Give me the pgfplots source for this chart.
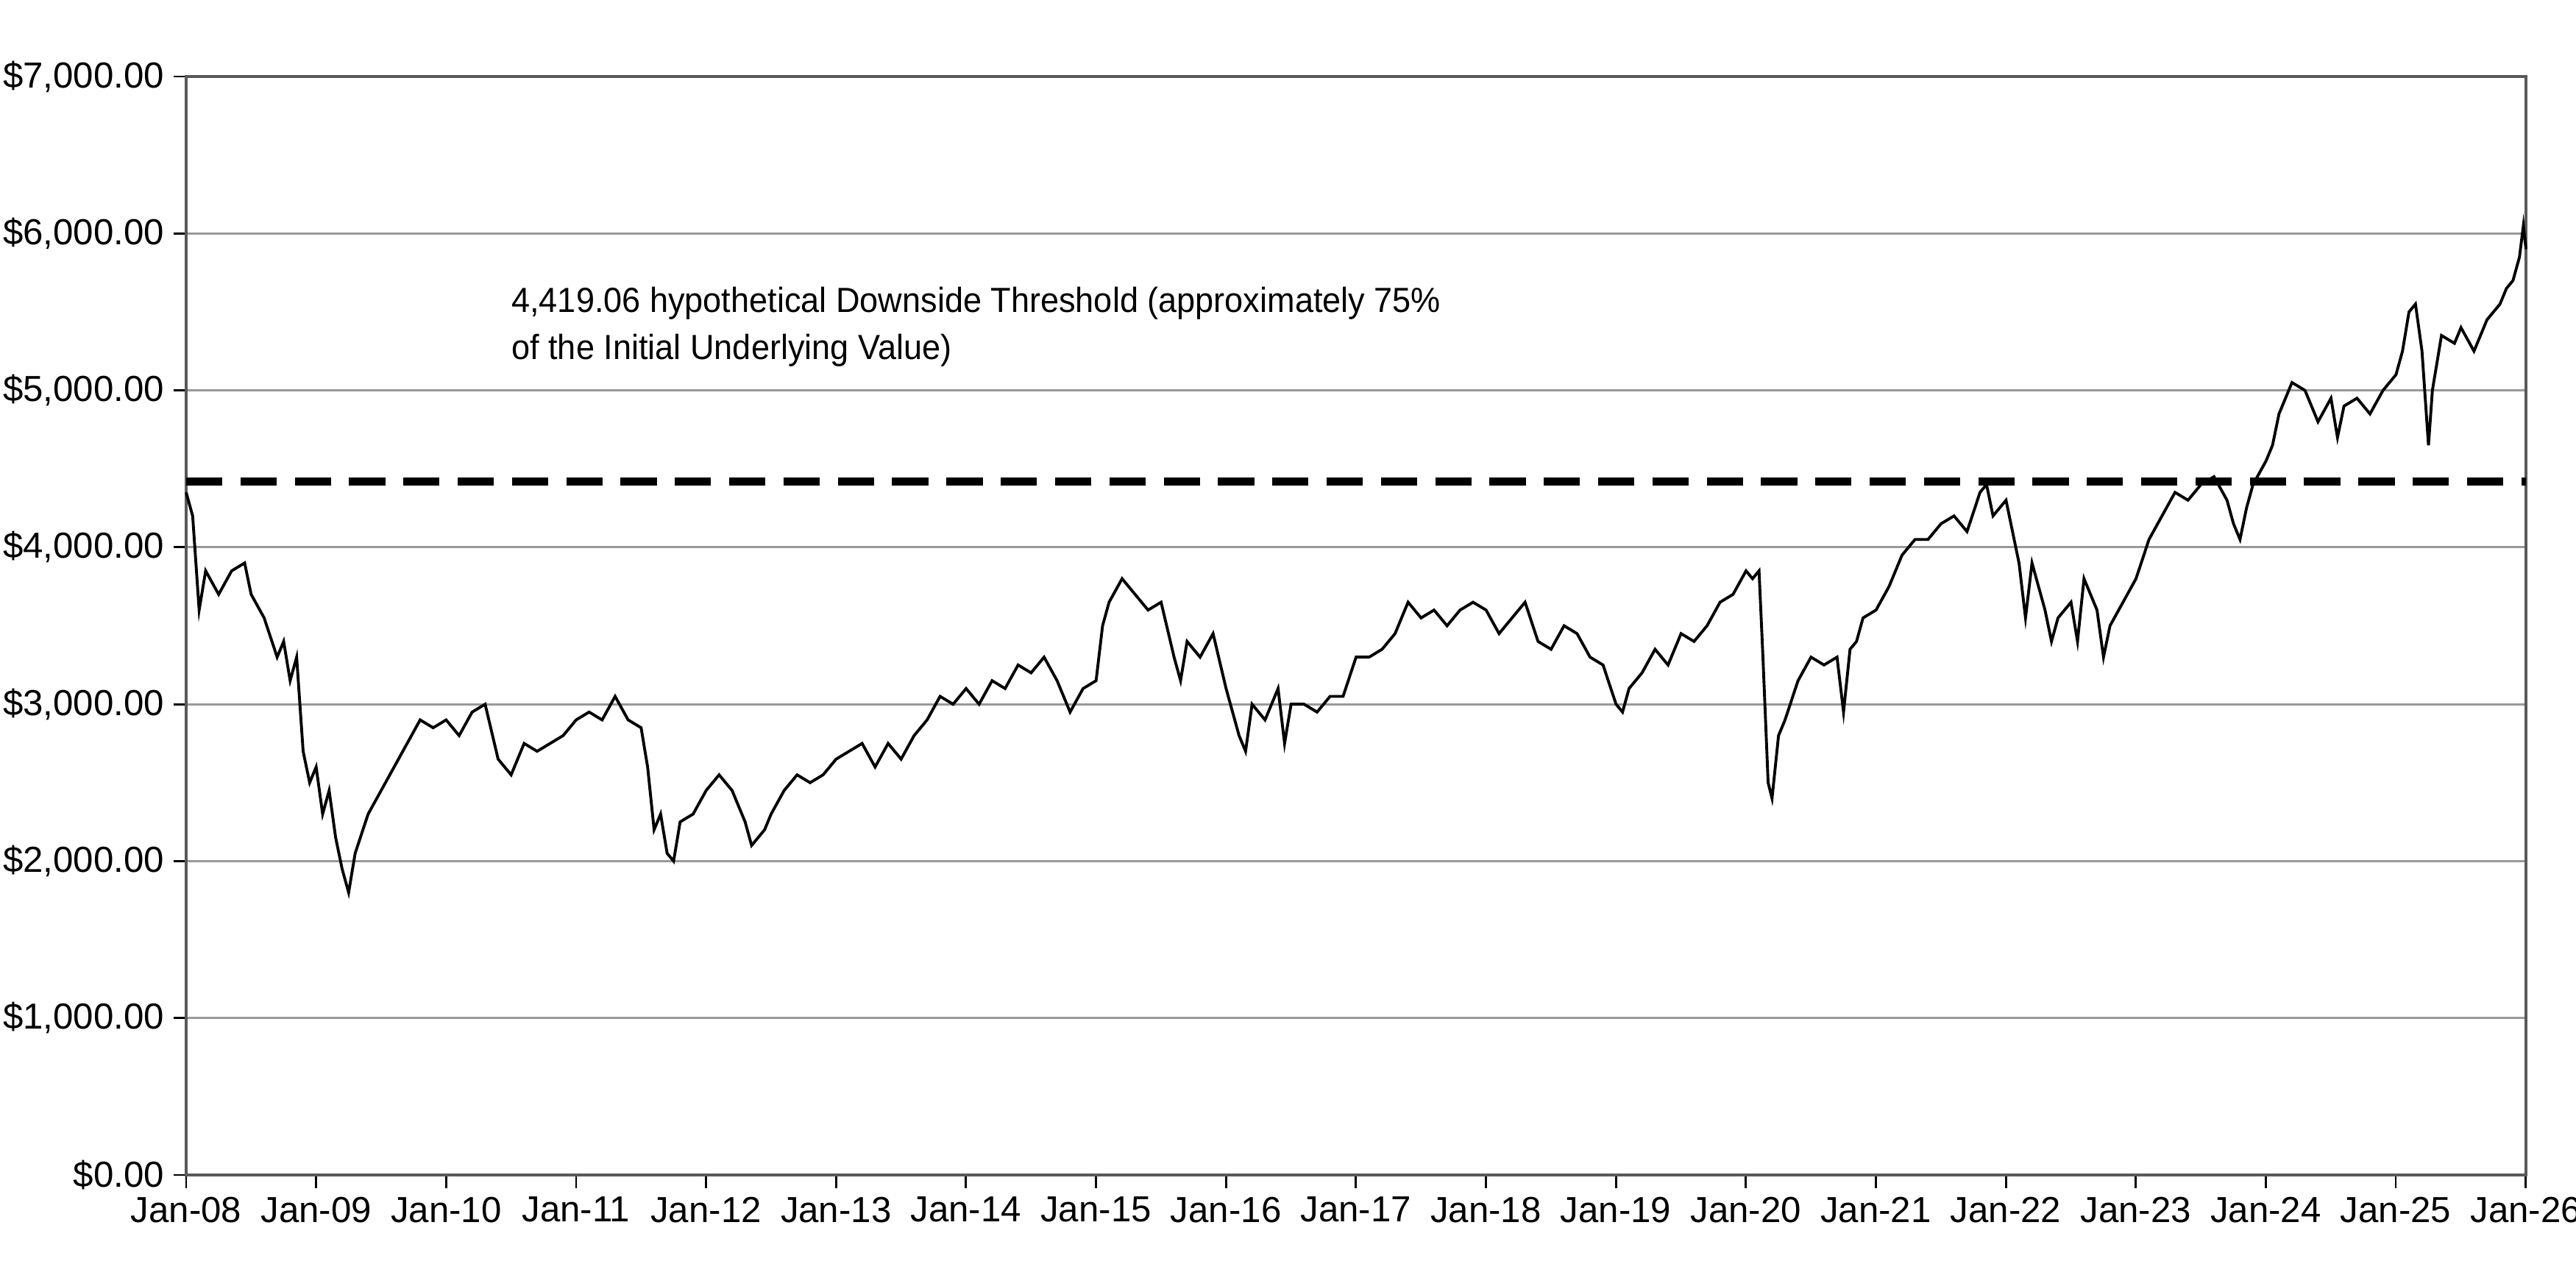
\documentclass[border=0pt]{standalone}
\usepackage{pgfplots}
\pgfplotsset{compat=1.18}
\usepackage{fontspec}
\setmainfont{Liberation Sans}
\begin{document}
\begin{tikzpicture}
\path[use as bounding box] (-2.53,-1.2) rectangle (32.48,15.97);
\begin{axis}[
  scale only axis, width=31.8cm, height=14.93cm,
  at={(0,0)}, anchor=south west,
  xmin=2008, xmax=2026, ymin=0, ymax=7000,
  xtick={2008,...,2026},
  xticklabels={Jan-08,Jan-09,Jan-10,Jan-11,Jan-12,Jan-13,Jan-14,Jan-15,Jan-16,Jan-17,Jan-18,Jan-19,Jan-20,Jan-21,Jan-22,Jan-23,Jan-24,Jan-25,Jan-26},
  ytick={0,1000,...,7000},
  yticklabels={\$0.00,\$1{,}000.00,\$2{,}000.00,\$3{,}000.00,\$4{,}000.00,\$5{,}000.00,\$6{,}000.00,\$7{,}000.00},
  ymajorgrids, major grid style={gray!80, line width=0.8pt},
  xtick pos=bottom, ytick pos=left,
  tick style={black, line width=0.8pt}, tick align=outside, major tick length=5pt,
  axis line style={gray!70!black, line width=1pt},
  ticklabel style={font=\fontsize{14}{16}\selectfont},
  /pgf/number format/assume math mode=true,
  clip=false,
]
\addplot[black, line width=1.1pt] coordinates {
(2008.0,4350)(2008.05,4200)(2008.1,3600)(2008.15,3850)(2008.25,3700)(2008.35,3850)(2008.45,3900)(2008.5,3700)(2008.6,3550)(2008.7,3300)(2008.75,3400)(2008.8,3150)(2008.85,3300)(2008.9,2700)(2008.95,2500)(2009.0,2600)(2009.05,2300)(2009.1,2450)(2009.15,2150)(2009.2,1950)(2009.25,1800)(2009.3,2050)(2009.4,2300)(2009.5,2450)(2009.6,2600)(2009.7,2750)(2009.8,2900)(2009.9,2850)(2010.0,2900)(2010.1,2800)(2010.2,2950)(2010.3,3000)(2010.4,2650)(2010.5,2550)(2010.6,2750)(2010.7,2700)(2010.8,2750)(2010.9,2800)(2011.0,2900)(2011.1,2950)(2011.2,2900)(2011.3,3050)(2011.4,2900)(2011.5,2850)(2011.55,2600)(2011.6,2200)(2011.65,2300)(2011.7,2050)(2011.75,2000)(2011.8,2250)(2011.9,2300)(2012.0,2450)(2012.1,2550)(2012.2,2450)(2012.3,2250)(2012.35,2100)(2012.45,2200)(2012.5,2300)(2012.6,2450)(2012.7,2550)(2012.8,2500)(2012.9,2550)(2013.0,2650)(2013.1,2700)(2013.2,2750)(2013.3,2600)(2013.4,2750)(2013.5,2650)(2013.6,2800)(2013.7,2900)(2013.8,3050)(2013.9,3000)(2014.0,3100)(2014.1,3000)(2014.2,3150)(2014.3,3100)(2014.4,3250)(2014.5,3200)(2014.6,3300)(2014.7,3150)(2014.8,2950)(2014.9,3100)(2015.0,3150)(2015.05,3500)(2015.1,3650)(2015.2,3800)(2015.3,3700)(2015.4,3600)(2015.5,3650)(2015.6,3300)(2015.65,3150)(2015.7,3400)(2015.8,3300)(2015.9,3450)(2016.0,3100)(2016.1,2800)(2016.15,2700)(2016.2,3000)(2016.3,2900)(2016.4,3100)(2016.45,2750)(2016.5,3000)(2016.6,3000)(2016.7,2950)(2016.8,3050)(2016.9,3050)(2017.0,3300)(2017.1,3300)(2017.2,3350)(2017.3,3450)(2017.4,3650)(2017.5,3550)(2017.6,3600)(2017.7,3500)(2017.8,3600)(2017.9,3650)(2018.0,3600)(2018.1,3450)(2018.2,3550)(2018.3,3650)(2018.4,3400)(2018.5,3350)(2018.6,3500)(2018.7,3450)(2018.8,3300)(2018.9,3250)(2019.0,3000)(2019.05,2950)(2019.1,3100)(2019.2,3200)(2019.3,3350)(2019.4,3250)(2019.5,3450)(2019.6,3400)(2019.7,3500)(2019.8,3650)(2019.9,3700)(2020.0,3850)(2020.05,3800)(2020.1,3850)(2020.13,3300)(2020.17,2500)(2020.2,2400)(2020.25,2800)(2020.3,2900)(2020.4,3150)(2020.5,3300)(2020.6,3250)(2020.7,3300)(2020.75,2950)(2020.8,3350)(2020.85,3400)(2020.9,3550)(2021.0,3600)(2021.1,3750)(2021.2,3950)(2021.3,4050)(2021.4,4050)(2021.5,4150)(2021.6,4200)(2021.7,4100)(2021.8,4350)(2021.85,4400)(2021.9,4200)(2022.0,4300)(2022.05,4100)(2022.1,3900)(2022.15,3550)(2022.2,3900)(2022.3,3600)(2022.35,3400)(2022.4,3550)(2022.5,3650)(2022.55,3400)(2022.6,3800)(2022.7,3600)(2022.75,3300)(2022.8,3500)(2022.9,3650)(2023.0,3800)(2023.1,4050)(2023.2,4200)(2023.3,4350)(2023.4,4300)(2023.5,4400)(2023.6,4450)(2023.7,4300)(2023.75,4150)(2023.8,4050)(2023.85,4250)(2023.9,4400)(2024.0,4550)(2024.05,4650)(2024.1,4850)(2024.2,5050)(2024.3,5000)(2024.4,4800)(2024.5,4950)(2024.55,4700)(2024.6,4900)(2024.7,4950)(2024.8,4850)(2024.9,5000)(2025.0,5100)(2025.05,5250)(2025.1,5500)(2025.15,5550)(2025.2,5250)(2025.25,4650)(2025.28,5000)(2025.35,5350)(2025.45,5300)(2025.5,5400)(2025.6,5250)(2025.7,5450)(2025.8,5550)(2025.85,5650)(2025.9,5700)(2025.95,5850)(2025.98,6050)(2026.0,5900)
};
\addplot[black, line width=3pt, dash pattern=on 14pt off 7pt] coordinates {(2008,4419.06)(2026,4419.06)};
\node[anchor=north west, align=left, font=\fontsize{13.5}{18}\selectfont, inner sep=0pt, xscale=0.95] at (axis cs:2010.5,5660) {4,419.06 hypothetical Downside Threshold (approximately 75\%\\of the Initial Underlying Value)};
\end{axis}
\end{tikzpicture}
\end{document}
